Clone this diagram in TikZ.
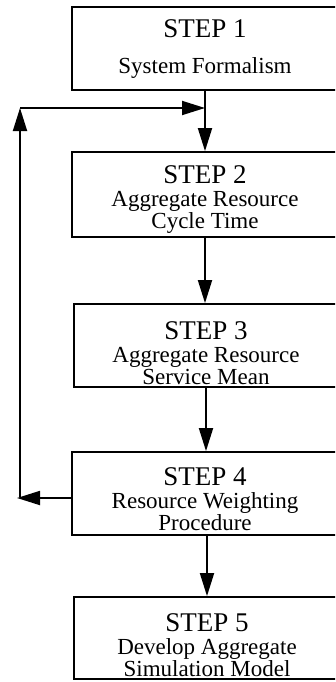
\documentclass[tikz,border=0pt]{standalone}
\usepackage{fontspec}
\setmainfont{Liberation Serif}
\usetikzlibrary{arrows.meta}

% step heading: #1 = strut height that places the text block in its box
\newcommand\steptitle[2]{{\fontsize{27}{22}\selectfont\rule{0pt}{#1}#2}}

\tikzset{
  stepbox/.style={draw, line width=1.8pt, rectangle, align=center,
    minimum height=84pt, inner sep=0pt,
    font=\fontsize{23}{22}\selectfont},
  flow/.style={line width=1.8pt, -{Triangle[length=23pt,width=14pt]}},
}

\begin{document}
\begin{tikzpicture}[x=1pt, y=-1pt]
\useasboundingbox (0,0) rectangle (335,682);
\clip (0,0) rectangle (335,682);

\node[stepbox, minimum width=266pt, minimum height=83pt] (b1) at (205,48.5)
  {\steptitle{18pt}{STEP 1}\\[14pt]System Formalism};
\node[stepbox, minimum width=266pt, minimum height=85pt] (b2) at (205,194.5)
  {\steptitle{27pt}{STEP 2}\\[1pt]Aggregate Resource\\Cycle Time};
\node[stepbox, minimum width=264pt, minimum height=83pt] (b3) at (206,345.5)
  {\steptitle{34pt}{STEP 3}\\[1pt]Aggregate Resource\\Service Mean};
\node[stepbox, minimum width=266pt, minimum height=83pt] (b4) at (205,493.5)
  {\steptitle{30pt}{STEP 4}\\[1pt]Resource Weighting\\Procedure};
\node[stepbox, minimum width=266pt, minimum height=82pt] (b5) at (207,638)
  {\steptitle{33pt}{STEP 5}\\[1pt]Develop Aggregate\\Simulation Model};

% main sequence
\draw[flow] (b1.south) -- (b1.south |- b2.north);
\draw[flow] (b2.south) -- (b2.south |- b3.north);
\draw[flow] (b3.south) -- (b3.south |- b4.north);
\draw[flow] (b4.south -| b5.north) -- (b5.north);

% feedback loop from step 4 back to step 2
\coordinate (fbTip) at (17,498);
\coordinate (fbBot) at (20,497);
\coordinate (fbTop) at (20,108);
\coordinate (merge) at (b1.south |- fbTop);
\draw[flow] (b4.west |- fbTip) -- (fbTip);
\draw[flow] (fbBot) -- (fbTop);
\draw[flow] (fbTop) -- (merge);
\end{tikzpicture}
\end{document}
